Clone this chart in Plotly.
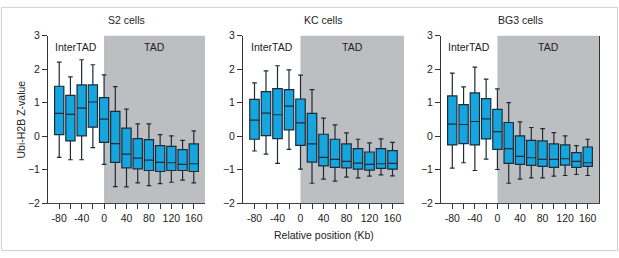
import plotly.graph_objects as go

positions = [-80, -60, -40, -20, 0, 20, 40, 60, 80, 100, 120, 140, 160]
panel_titles = ["S2 cells", "KC cells", "BG3 cells"]

s2_upper = [2.21, 1.77, 2.28, 2.13, 1.83, 1.48, 0.81, 0.37, 0.37, 0.05, 0.01, -0.12, 0.16]
s2_q3 = [1.49, 1.22, 1.53, 1.53, 1.15, 0.74, 0.24, -0.07, -0.10, -0.28, -0.30, -0.40, -0.23]
s2_med = [0.68, 0.65, 0.84, 1.02, 0.51, -0.22, -0.53, -0.65, -0.71, -0.78, -0.79, -0.84, -0.82]
s2_q1 = [0.05, -0.14, 0.01, 0.27, -0.18, -0.78, -0.94, -0.97, -1.02, -1.05, -1.02, -1.02, -1.05]
s2_lower = [-0.63, -0.70, -0.70, -0.34, -0.84, -1.50, -1.51, -1.39, -1.47, -1.41, -1.37, -1.31, -1.39]

kc_upper = [1.59, 1.95, 2.10, 1.98, 1.82, 1.39, 0.54, 0.34, 0.10, -0.09, -0.20, -0.08, -0.18]
kc_q3 = [1.10, 1.33, 1.42, 1.39, 1.11, 0.68, 0.06, -0.09, -0.23, -0.37, -0.47, -0.37, -0.43]
kc_med = [0.48, 0.69, 0.64, 0.90, 0.40, -0.23, -0.63, -0.69, -0.75, -0.80, -0.84, -0.82, -0.81]
kc_q1 = [-0.09, 0.02, -0.07, 0.19, -0.27, -0.77, -0.88, -0.93, -0.94, -0.98, -1.01, -0.96, -0.98]
kc_lower = [-0.44, -0.53, -0.81, -0.39, -0.98, -1.40, -1.28, -1.34, -1.22, -1.24, -1.19, -1.15, -1.18]

bg3_upper = [1.88, 1.47, 2.06, 1.70, 1.41, 1.00, 0.43, 0.26, 0.23, 0.11, 0.01, -0.28, -0.09]
bg3_q3 = [1.20, 0.94, 1.29, 1.12, 0.80, 0.41, 0.01, -0.12, -0.14, -0.23, -0.26, -0.49, -0.32]
bg3_med = [0.36, 0.35, 0.44, 0.52, 0.14, -0.37, -0.60, -0.64, -0.69, -0.69, -0.67, -0.75, -0.79]
bg3_q1 = [-0.26, -0.22, -0.26, -0.08, -0.39, -0.81, -0.84, -0.87, -0.90, -0.93, -0.86, -0.93, -0.90]
bg3_lower = [-0.95, -0.79, -1.02, -0.68, -0.99, -1.40, -1.28, -1.24, -1.24, -1.19, -1.17, -1.14, -1.17]

x_tickvals = [-80, -60, -40, -20, 0, 20, 40, 60, 80, 100, 120, 140, 160]
x_ticktext = ["-80", "", "-40", "", "0", "", "40", "", "80", "", "120", "", "160"]
y_tickvals = [-2, -1, 0, 1, 2, 3]
region_labels = ["InterTAD", "TAD"]

W, H = 619, 258
FONT = "Liberation Sans, Arial, sans-serif"
TXT = "#222222"

panels = [
    (s2_lower, s2_q1, s2_med, s2_q3, s2_upper),
    (kc_lower, kc_q1, kc_med, kc_q3, kc_upper),
    (bg3_lower, bg3_q1, bg3_med, bg3_q3, bg3_upper),
]
x_px = [(48, 205), (243, 404), (441, 599)]
y_top, y_bot = 31, 207

fig = go.Figure()
for i, (lo, q1, md, q3, up) in enumerate(panels):
    sfx = "" if i == 0 else str(i + 1)
    fig.add_trace(go.Box(
        x=positions, lowerfence=lo, q1=q1, median=md, q3=q3, upperfence=up,
        width=16.5, whiskerwidth=0.5,
        fillcolor="#17a5e0", line=dict(color="#1c2b36", width=1.2),
        xaxis="x" + sfx, yaxis="y" + sfx, showlegend=False, hoverinfo="skip",
    ))
    xa = dict(
        domain=[x_px[i][0] / W, x_px[i][1] / W], range=[-100, 180],
        tickvals=x_tickvals, ticktext=x_ticktext, ticks="outside", ticklen=5,
        tickcolor="#333", showline=True, linecolor="#444", linewidth=1,
        showgrid=False, zeroline=False, anchor="y" + sfx,
        tickfont=dict(family=FONT, size=10.5, color=TXT),
    )
    ya = dict(
        domain=[1 - y_bot / H, 1 - y_top / H], range=[-2, 3],
        tickvals=y_tickvals, ticks="outside", ticklen=5, tickcolor="#333",
        showline=True, linecolor="#333", linewidth=1,
        showgrid=False, zeroline=False, anchor="x" + sfx,
        tickfont=dict(family=FONT, size=10.5, color=TXT),
        mirror=(i == 2),
    )
    fig.update_layout(**{"xaxis" + sfx: xa, "yaxis" + sfx: ya})
    fig.add_shape(type="rect", xref="x" + sfx, yref="y" + sfx,
                  x0=0, x1=180, y0=-2, y1=3, fillcolor="#bdbec1",
                  line=dict(width=0), layer="below")
    fig.add_annotation(xref="x" + sfx, yref="y" + sfx, x=-50, y=2.66,
                       text=region_labels[0], showarrow=False,
                       xanchor="center", yanchor="middle",
                       font=dict(family=FONT, size=10.5, color=TXT))
    fig.add_annotation(xref="x" + sfx, yref="y" + sfx, x=90, y=2.66,
                       text=region_labels[1], showarrow=False,
                       xanchor="center", yanchor="middle",
                       font=dict(family=FONT, size=10.5, color=TXT))
    fig.add_annotation(xref="paper", yref="paper",
                       x=(x_px[i][0] + x_px[i][1]) / 2 / W, y=1 - 15 / H,
                       text=panel_titles[i], showarrow=False,
                       xanchor="center", yanchor="middle",
                       font=dict(family=FONT, size=10.5, color=TXT))

fig.add_annotation(xref="paper", yref="paper", x=(x_px[1][0] + x_px[1][1]) / 2 / W,
                   y=1 - 240 / H, text="Relative position (Kb)", showarrow=False,
                   xanchor="center", yanchor="middle",
                   font=dict(family=FONT, size=10.5, color=TXT))
fig.add_annotation(xref="paper", yref="paper", x=21 / W, y=1 - 119 / H,
                   text="Ubi-H2B Z-value", textangle=-90, showarrow=False,
                   xanchor="center", yanchor="middle",
                   font=dict(family=FONT, size=10.5, color=TXT))
fig.add_shape(type="rect", xref="paper", yref="paper",
              x0=1.5 / W, x1=617.5 / W, y0=1 - 256.5 / H, y1=1 - 1.5 / H,
              line=dict(color="#cfcfcf", width=1), fillcolor="rgba(0,0,0,0)")

fig.update_layout(width=W, height=H, margin=dict(l=0, r=0, t=0, b=0),
                  paper_bgcolor="white", plot_bgcolor="white",
                  font=dict(family=FONT, color=TXT))
fig.write_html("out.html", config={"displayModeBar": False},
               post_script="document.body.style.margin='0';document.body.style.overflow='hidden';")
